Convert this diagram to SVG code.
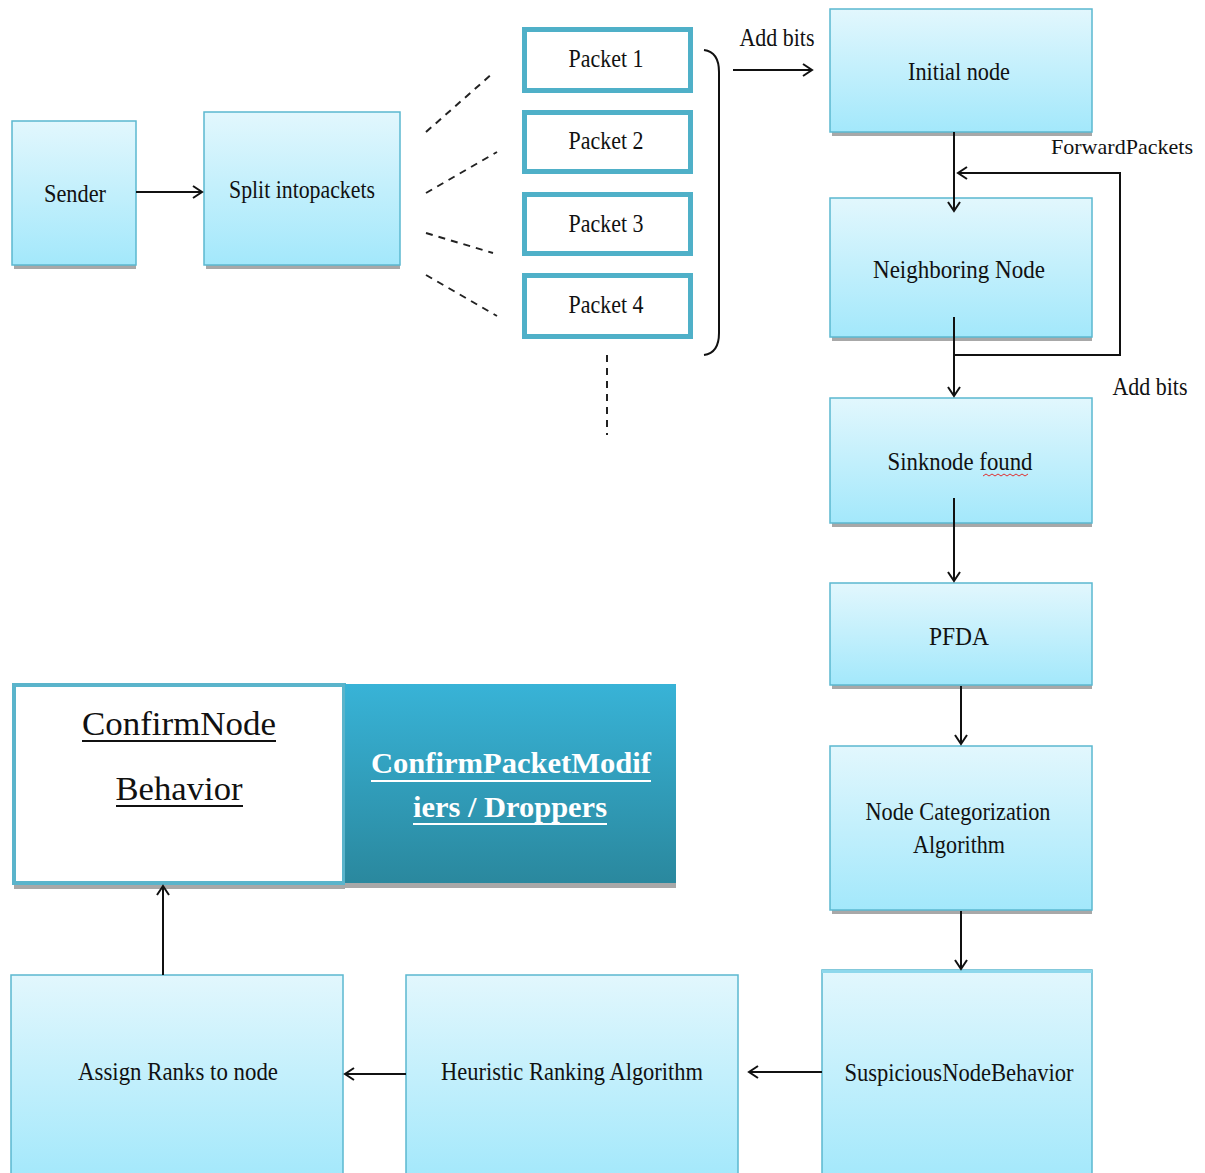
<svg xmlns="http://www.w3.org/2000/svg" width="1205" height="1173" viewBox="0 0 1205 1173">
<style>
.t{font-family:"Liberation Serif","Times New Roman",serif;font-size:25px;fill:#111;text-anchor:middle}
.box{fill:url(#g);stroke:#5bb8d0;stroke-width:1.5}
.sh{fill:#a8a8a8}
.pk{fill:#fff;stroke:#4fb0c8;stroke-width:5}
.ln{stroke:#111;stroke-width:2;fill:none}
.dash{stroke:#222;stroke-width:2;stroke-dasharray:7,6;fill:none}
</style>
<defs>
<linearGradient id="g" x1="0" y1="0" x2="0" y2="1"><stop offset="0" stop-color="#e2f7fd"/><stop offset="1" stop-color="#a3e8fb"/></linearGradient>
<linearGradient id="g2" x1="0" y1="0" x2="0" y2="1"><stop offset="0" stop-color="#38b3d7"/><stop offset="1" stop-color="#2a889e"/></linearGradient>
<marker id="a" markerWidth="14" markerHeight="14" refX="11" refY="7" orient="auto" markerUnits="userSpaceOnUse"><path d="M2,1 L11,7 L2,13" fill="none" stroke="#111" stroke-width="2"/></marker>
</defs>

<g id="sender"><rect class="sh" x="14" y="265" width="122" height="4"/><rect class="box" x="12" y="121" width="124" height="144"/><text class="t" x="75" y="202" textLength="62" lengthAdjust="spacingAndGlyphs">Sender</text></g>
<g id="split"><rect class="sh" x="206" y="265" width="194" height="4"/><rect class="box" x="204" y="112" width="196" height="153"/><text class="t" x="302" y="198" textLength="146" lengthAdjust="spacingAndGlyphs">Split intopackets</text></g>

<g id="packet1"><rect class="pk" x="524.5" y="29.5" width="166" height="61"/><text class="t" x="606" y="67" textLength="75" lengthAdjust="spacingAndGlyphs">Packet 1</text></g>
<g id="packet2"><rect class="pk" x="524.5" y="112.5" width="166" height="59"/><text class="t" x="606" y="149" textLength="75" lengthAdjust="spacingAndGlyphs">Packet 2</text></g>
<g id="packet3"><rect class="pk" x="524.5" y="194.5" width="166" height="59"/><text class="t" x="606" y="232" textLength="75" lengthAdjust="spacingAndGlyphs">Packet 3</text></g>
<g id="packet4"><rect class="pk" x="524.5" y="275.5" width="166" height="61"/><text class="t" x="606" y="313" textLength="75" lengthAdjust="spacingAndGlyphs">Packet 4</text></g>

<g id="initial"><rect class="sh" x="832" y="132" width="260" height="4"/><rect class="box" x="830" y="9" width="262" height="123"/><text class="t" x="959" y="80" textLength="102" lengthAdjust="spacingAndGlyphs">Initial node</text></g>
<g id="neighbor"><rect class="sh" x="832" y="337" width="260" height="4"/><rect class="box" x="830" y="198" width="262" height="139"/><text class="t" x="959" y="278" textLength="172" lengthAdjust="spacingAndGlyphs">Neighboring Node</text></g>
<g id="sink"><rect class="sh" x="832" y="523" width="260" height="4"/><rect class="box" x="830" y="398" width="262" height="125"/><text class="t" x="960" y="470" textLength="145" lengthAdjust="spacingAndGlyphs">Sinknode found</text><path d="M983,476 l3,-2 3,2 3,-2 3,2 3,-2 3,2 3,-2 3,2 3,-2 3,2 3,-2 3,2 3,-2 3,2 3,-2" fill="none" stroke="#e03030" stroke-width="1"/></g>
<g id="pfda"><rect class="sh" x="832" y="685" width="260" height="4"/><rect class="box" x="830" y="583" width="262" height="102"/><text class="t" x="959" y="645" textLength="60" lengthAdjust="spacingAndGlyphs">PFDA</text></g>
<g id="nodecat"><rect class="sh" x="832" y="910" width="260" height="4"/><rect class="box" x="830" y="746" width="262" height="164"/><text class="t" x="958" y="820" textLength="185" lengthAdjust="spacingAndGlyphs">Node Categorization</text><text class="t" x="959" y="853" textLength="92" lengthAdjust="spacingAndGlyphs">Algorithm</text></g>
<g id="suspicious"><rect class="box" x="822" y="970" width="270" height="210"/><rect x="822" y="970" width="270" height="3" fill="#8ed8ec"/><text class="t" x="959" y="1081" textLength="229" lengthAdjust="spacingAndGlyphs">SuspiciousNodeBehavior</text></g>
<g id="heuristic"><rect class="box" x="406" y="975" width="332" height="205"/><text class="t" x="572" y="1080" textLength="262" lengthAdjust="spacingAndGlyphs">Heuristic Ranking Algorithm</text></g>
<g id="assign"><rect class="box" x="11" y="975" width="332" height="205"/><text class="t" x="178" y="1080" textLength="200" lengthAdjust="spacingAndGlyphs">Assign Ranks to node</text></g>

<g id="confirmnode"><rect class="sh" x="14" y="885" width="331" height="4"/><rect x="14" y="685" width="330" height="198" fill="#fff" stroke="#5ab4cb" stroke-width="4"/><text class="t" x="179" y="735" style="font-size:34px" textLength="194" lengthAdjust="spacingAndGlyphs">ConfirmNode</text><rect x="82" y="740" width="194" height="2" fill="#111"/><text class="t" x="179" y="800" style="font-size:34px" textLength="127" lengthAdjust="spacingAndGlyphs">Behavior</text><rect x="116" y="805" width="127" height="2" fill="#111"/></g>
<g id="confirmpacket"><rect class="sh" x="345" y="883" width="331" height="5"/><rect x="345" y="684" width="331" height="199" fill="url(#g2)"/><text class="t" x="511" y="773" style="font-size:30px;font-weight:bold;fill:#fff" textLength="280" lengthAdjust="spacingAndGlyphs">ConfirmPacketModif</text><rect x="371" y="780" width="280" height="2" fill="#fff"/><text class="t" x="510" y="817" style="font-size:30px;font-weight:bold;fill:#fff" textLength="194" lengthAdjust="spacingAndGlyphs">iers / Droppers</text><rect x="413" y="823" width="194" height="2" fill="#fff"/></g>

<g id="connectors">
<line class="ln" x1="136" y1="192" x2="202" y2="192" marker-end="url(#a)"/>
<line class="dash" x1="426" y1="132" x2="493" y2="73"/>
<line class="dash" x1="426" y1="193" x2="497" y2="152"/>
<line class="dash" x1="426" y1="233" x2="493" y2="253"/>
<line class="dash" x1="426" y1="275" x2="497" y2="316"/>
<line class="dash" x1="607" y1="355" x2="607" y2="435"/>
<path class="ln" d="M704,50 Q719,52 719,72 L719,333 Q719,353 704,355" stroke-width="1.5"/>
<line class="ln" x1="733" y1="70" x2="812" y2="70" marker-end="url(#a)"/>
<text class="t" x="777" y="46" textLength="75" lengthAdjust="spacingAndGlyphs">Add bits</text>
<line class="ln" x1="954" y1="132" x2="954" y2="211" marker-end="url(#a)"/>
<path class="ln" d="M954,317 L954,355 L1120,355 L1120,173 L958,173" marker-end="url(#a)"/>
<line class="ln" x1="954" y1="355" x2="954" y2="396" marker-end="url(#a)"/>
<text class="t" x="1122" y="154" style="font-size:22px" textLength="142" lengthAdjust="spacingAndGlyphs">ForwardPackets</text>
<text class="t" x="1150" y="395" textLength="75" lengthAdjust="spacingAndGlyphs">Add bits</text>
<line class="ln" x1="954" y1="498" x2="954" y2="581" marker-end="url(#a)"/>
<line class="ln" x1="961" y1="686" x2="961" y2="744" marker-end="url(#a)"/>
<line class="ln" x1="961" y1="911" x2="961" y2="969" marker-end="url(#a)"/>
<line class="ln" x1="822" y1="1072" x2="749" y2="1072" marker-end="url(#a)" stroke-width="2.5"/>
<line class="ln" x1="406" y1="1074" x2="345" y2="1074" marker-end="url(#a)" stroke-width="2.5"/>
<line class="ln" x1="163" y1="975" x2="163" y2="886" marker-end="url(#a)"/>
</g>
</svg>
